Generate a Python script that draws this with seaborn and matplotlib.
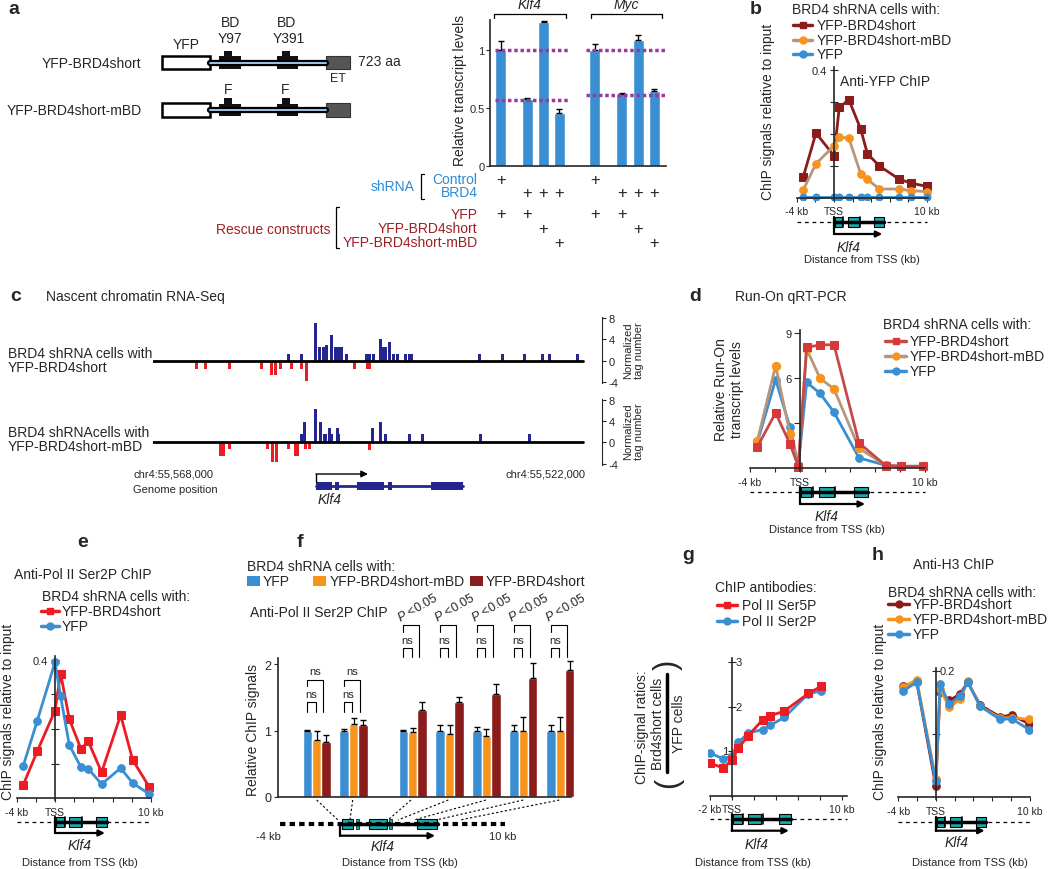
import numpy as np
import pandas as pd
import seaborn as sns
import matplotlib.pyplot as plt
from matplotlib.patches import Rectangle
from matplotlib.transforms import blended_transform_factory

# ---------------- Data ----------------
# a: relative transcript levels (Klf4 x4, Myc x4)
a_pos = [0, 1.6, 2.6, 3.55, 5.7, 7.35, 8.35, 9.3]
a_vals = [1.0, 0.58, 1.24, 0.46, 1.0, 0.62, 1.09, 0.65]
a_err = [0.08, 0.01, 0.01, 0.03, 0.05, 0.005, 0.04, 0.01]
a_klf4_ref = [1.0, 0.57]
a_myc_ref = [1.0, 0.61]
a_rows = ["Control", "BRD4", "YFP", "YFP-BRD4short", "YFP-BRD4short-mBD"]
a_plus = [
    [1, 0, 0, 0, 1, 0, 0, 0],
    [0, 1, 1, 1, 0, 1, 1, 1],
    [1, 1, 0, 0, 1, 1, 0, 0],
    [0, 0, 1, 0, 0, 0, 1, 0],
    [0, 0, 0, 1, 0, 0, 0, 1],
]

# b: anti-YFP ChIP
b_kb = [-3.3, -1.94, 0, 0.57, 1.6, 2.87, 3.6, 4.9, 7.0, 8.25, 10.0]
b_short = [0.067, 0.203, 0.132, 0.283, 0.307, 0.216, 0.138, 0.10, 0.059, 0.047, 0.036]
b_mbd = [0.026, 0.107, 0.163, 0.19, 0.187, 0.076, 0.058, 0.028, 0.028, 0.023, 0.02]
b_yfp = [0.004, 0.004, 0.004, 0.004, 0.004, 0.004, 0.004, 0.004, 0.004, 0.004, 0.004]

# c: nascent RNA-seq tracks (kb from chr4:55,568,000)
c1_up_pos = [14.5, 15.9, 17.4, 17.8, 18.2, 18.6, 19.1, 19.5, 19.8, 20.2, 20.7, 22.8, 23.2,
             23.6, 24.3, 24.6, 24.9, 25.3, 25.7, 26.2, 27.0, 27.4, 27.7, 34.9, 37.4, 39.7,
             41.7, 42.4, 45.4]
c1_up_val = [1.2, 1.2, 7.2, 2.5, 2.5, 3.0, 4.9, 2.5, 2.5, 2.5, 1.2, 1.2, 1.2,
             1.2, 4.1, 2.5, 2.5, 3.6, 1.2, 1.2, 1.2, 1.2, 1.2, 1.2, 1.2, 1.2,
             1.2, 1.2, 1.2]
c1_dn_pos = [4.7, 5.6, 8.2, 11.6, 12.7, 13.1, 13.6, 14.8, 15.9, 16.4, 21.6, 22.9, 23.2]
c1_dn_val = [-1.6, -1.6, -1.6, -1.6, -2.6, -2.6, -1.6, -1.6, -1.6, -3.9, -1.6, -1.6, -1.6]
c2_up_pos = [15.9, 16.2, 17.4, 17.9, 18.4, 18.9, 19.1, 19.7, 19.8, 23.5, 24.3, 24.9,
             27.4, 28.8, 35.0, 40.3]
c2_up_val = [1.6, 3.8, 6.3, 3.8, 1.6, 2.7, 1.6, 2.7, 1.6, 2.7, 3.8, 1.6,
             1.6, 1.6, 1.6, 1.6]
c2_dn_pos = [7.2, 7.5, 8.2, 12.2, 12.8, 13.2, 14.5, 15.2, 15.5, 16.3, 16.7, 23.2]
c2_dn_val = [-2.5, -2.5, -1.3, -1.3, -3.8, -3.8, -1.3, -2.5, -2.5, -1.3, -1.3, -1.5]

# d: run-on qRT-PCR
d_kb = [-3.41, -1.95, -0.8, -0.13, 0.53, 1.6, 2.72, 4.72, 6.85, 8.05, 9.87]
d_short = [1.44, 3.69, 1.62, 0.11, 8.07, 8.22, 8.24, 1.69, 0.18, 0.13, 0.13]
d_mbd = [1.84, 6.84, 2.3, 0.2, 7.95, 6.0, 5.29, 1.33, 0.2, 0.13, 0.13]
d_yfp = [1.73, 5.91, 2.73, 0.18, 5.73, 5.0, 3.73, 0.69, 0.2, 0.13, 0.13]

# e: anti-Pol II Ser2P ChIP
e_kb = [-3.3, -1.84, 0, 0.59, 1.49, 2.71, 3.47, 4.86, 6.84, 8.09, 9.83]
e_short = [0.039, 0.136, 0.253, 0.36, 0.229, 0.142, 0.164, 0.075, 0.240, 0.111, 0.032]
e_yfp = [0.094, 0.224, 0.392, 0.294, 0.154, 0.089, 0.085, 0.041, 0.087, 0.044, 0.012]

# f: relative ChIP signals per amplicon
f_pos = [0, 1, 2.6, 3.6, 4.6, 5.6, 6.6]
f_yfp = [1.0, 1.0, 1.0, 1.0, 1.0, 1.0, 1.0]
f_yfp_err = [0.01, 0.03, 0.005, 0.09, 0.05, 0.09, 0.09]
f_mbd = [0.86, 1.10, 0.98, 0.94, 0.91, 0.99, 1.0]
f_mbd_err = [0.13, 0.09, 0.06, 0.14, 0.11, 0.22, 0.21]
f_short = [0.83, 1.09, 1.31, 1.43, 1.55, 1.79, 1.92]
f_short_err = [0.1, 0.07, 0.12, 0.07, 0.15, 0.23, 0.13]
f_order = ["YFP", "YFP-BRD4short-mBD", "YFP-BRD4short"]

# g: ChIP-signal ratios
g_kb = [-1.97, -0.76, 0, 0.6, 1.5, 2.82, 3.48, 4.76, 6.97, 8.12]
g_ser5 = [0.74, 0.62, 0.80, 1.07, 1.35, 1.71, 1.80, 1.90, 2.30, 2.46]
g_ser2 = [0.96, 0.83, 0.90, 1.20, 1.41, 1.49, 1.58, 1.76, 2.29, 2.36]

# h: anti-H3 ChIP
h_kb = [-3.45, -2.02, 0, 0.46, 1.45, 2.59, 3.4, 4.71, 6.84, 8.09, 9.93]
h_short = [0.176, 0.182, 0.018, 0.166, 0.153, 0.163, 0.182, 0.146, 0.127, 0.13, 0.116]
h_mbd = [0.174, 0.186, 0.029, 0.171, 0.142, 0.155, 0.183, 0.144, 0.125, 0.126, 0.123]
h_yfp = [0.168, 0.182, 0.025, 0.179, 0.147, 0.160, 0.182, 0.144, 0.123, 0.124, 0.107]

# Klf4 gene model (kb from TSS)
klf4_exons = [(0.1, 0.9), (1.5, 2.7), (4.3, 5.4)]
klf4_small = [1.0, 2.8]
klf4_arrow_end = 5.2

# ---------------- Style ----------------
BLUE = "#3a8fd2"
ORANGE = "#f7941d"
DARKRED = "#8b1c1c"
RED = "#ec1c24"
BRICK = "#c44a4a"
TAN = "#b5967f"
TEAL = "#19a9ab"
NAVY = "#25258f"
TXTBLUE = "#2b8ad6"
TXTRED = "#9e1f23"
PURPLE = "#9a3a9e"

sns.set_style("ticks")
plt.rcParams["font.family"] = ["Liberation Sans", "DejaVu Sans"]
plt.rcParams["mathtext.fontset"] = "custom"
plt.rcParams["mathtext.it"] = "Liberation Sans:italic"
plt.rcParams["mathtext.rm"] = "Liberation Sans"
plt.rcParams["axes.linewidth"] = 1.2

W, H = 1050, 870
fig = plt.figure(figsize=(10.5, 8.7), dpi=100)
ov = fig.add_axes([0, 0, 1, 1], zorder=5)
ov.set_xlim(0, W)
ov.set_ylim(H, 0)
ov.axis("off")


def px_axes(x0, y0, x1, y1):
    ax = fig.add_axes([x0 / W, 1 - y1 / H, (x1 - x0) / W, (y1 - y0) / H])
    ax.patch.set_alpha(0)
    return ax


def txt(x, y, s, size=10, **kw):
    kw.setdefault("va", "center")
    ov.text(x, y, s, fontsize=size, **kw)


def trace(ax, x, y, line, face, marker, ms=5):
    sns.lineplot(x=x, y=y, ax=ax, color=line, marker=marker, markersize=ms,
                 markerfacecolor=face, markeredgecolor=face, lw=2, sort=False)


def tss_axes(ax, xlim, ylim, xb, xticks, xlabels, yticks, ylabels, ydir="inout"):
    ax.set_xlim(*xlim)
    ax.set_ylim(*ylim)
    sns.despine(ax=ax)
    ax.spines["left"].set_position(("data", 0))
    ax.spines["bottom"].set_position(("data", 0))
    ax.spines["bottom"].set_bounds(*xb)
    ax.set_xticks(xticks)
    ax.set_xticklabels(xlabels, fontsize=7.5)
    ax.set_yticks(yticks)
    ax.set_yticklabels(ylabels, fontsize=8)
    ax.tick_params(axis="y", direction=ydir, length=6, pad=2)
    ax.tick_params(axis="x", direction="out", length=3, pad=3)
    ax.set_xlabel("")
    ax.set_ylabel("")


def klf4_gene(ax, x_lo, x_hi, y_line, y_arrow, name_x, y_name, dist_x, y_dist):
    tr = blended_transform_factory(ax.transData, ov.transData)
    kw = dict(transform=tr, clip_on=False)
    ax.plot([x_lo, x_hi], [y_line, y_line], color="k", lw=0.9, ls=(0, (3, 3)), **kw)
    ax.plot([0, klf4_exons[-1][1]], [y_line, y_line], color="k", lw=2.5, **kw)
    for s, e in klf4_exons:
        ax.add_patch(Rectangle((s, y_line - 5), e - s, 10, fc=TEAL, ec="k", lw=0.8, **kw))
    for m in klf4_small:
        ax.plot([m, m], [y_line - 5, y_line + 5], color="k", lw=1.2, **kw)
    ax.plot([0, 0], [y_line - 5, y_arrow], color="k", lw=1.6, **kw)
    ax.annotate("", xy=(klf4_arrow_end, y_arrow), xytext=(0, y_arrow), xycoords=tr,
                textcoords=tr, annotation_clip=False,
                arrowprops=dict(arrowstyle="-|>", color="k", lw=1.6, mutation_scale=9,
                                shrinkA=0, shrinkB=0))
    ax.text(name_x, y_name, "Klf4", transform=tr, style="italic", ha="center",
            va="center", fontsize=10)
    txt(dist_x, y_dist, "Distance from TSS (kb)", size=8, ha="center")


def legend_line(x0, x1, y, line, face, marker, label, tx):
    ov.plot([x0, x1], [y, y], color=line, lw=2.5)
    ov.plot([(x0 + x1) / 2], [y], marker=marker, color=face, ms=5)
    txt(tx, y, label, size=10)


# ---------------- Panel letters ----------------
for s, x, y in [("a", 8, 9), ("b", 750, 10), ("c", 10, 297), ("d", 689, 297),
                ("e", 77, 543), ("f", 297, 543), ("g", 682, 556), ("h", 872, 556)]:
    txt(x, y, s, size=14, weight="bold")

# ---------------- a: constructs ----------------
for yc, lab in [(63.5, "YFP-BRD4short"), (111, "YFP-BRD4short-mBD")]:
    txt(141.7, yc, lab, ha="right")
    ov.plot([210, 326], [yc, yc], color="k", lw=4.5)
    ov.plot([210, 326], [yc, yc], color="#9fc5ea", lw=1.4)
    ov.add_patch(Rectangle((161.7, yc - 6.7), 48.3, 13.4, fc="white", ec="k", lw=1.8))
    for bx in [219.3, 276.7]:
        ov.add_patch(Rectangle((bx, yc - 6.3), 21.4, 12.6, fc="#111111", ec="none"))
        ov.add_patch(Rectangle((bx + 5, yc - 12), 8, 6, fc="#111111", ec="none"))
    ov.add_patch(Rectangle((326, yc - 6.7), 24, 13.4, fc="#555555", ec="#333333", lw=0.8))
txt(185.7, 45, "YFP", ha="center")
txt(230, 22.7, "BD", ha="center")
txt(230, 39, "Y97", ha="center")
txt(287, 22.7, "BD", ha="center")
txt(289, 39, "Y391", ha="center")
txt(358, 62, "723 aa")
txt(338, 79, "ET", size=9, ha="center")
txt(228, 90, "F", ha="center")
txt(285, 90, "F", ha="center")

# ---------------- a: bar chart ----------------
ax_a = px_axes(490, 20.8, 666, 167)
df_a = pd.DataFrame({"pos": a_pos, "val": a_vals})
sns.barplot(data=df_a, x="pos", y="val", native_scale=True, width=0.705, color=BLUE,
            saturation=1, errorbar=None, ax=ax_a)
ax_a.errorbar(a_pos, a_vals, yerr=[np.zeros(len(a_err)), a_err], fmt="none",
              ecolor="k", elinewidth=1, capsize=2)
for v in a_klf4_ref:
    ax_a.plot([-0.35, 4.1], [v, v], color=PURPLE, lw=2.5, ls=(0, (1, 0.8)), zorder=5)
for v in a_myc_ref:
    ax_a.plot([5.2, 10.0], [v, v], color=PURPLE, lw=2.5, ls=(0, (1, 0.8)), zorder=5,
              clip_on=False)
ax_a.set_xlim(-0.65, 10.02)
ax_a.set_ylim(0, 1.26)
ax_a.set_xticks([])
ax_a.set_yticks([0, 0.5, 1])
ax_a.set_yticklabels(["0", "0.5", "1"], fontsize=8)
ax_a.tick_params(axis="y", length=3, pad=1)
ax_a.set_xlabel("")
ax_a.set_ylabel("")
sns.despine(ax=ax_a)
txt(460, 90, "Relative transcript levels", rotation=90, ha="center")

tr_a = blended_transform_factory(ax_a.transData, ov.transData)
for lo, hi, name in [(-0.39, 3.94, "Klf4"), (5.47, 9.76, "Myc")]:
    ax_a.plot([lo, lo, hi, hi], [19, 15, 15, 19], color="k", lw=0.9, transform=tr_a,
              clip_on=False)
    ax_a.text((lo + hi) / 2, 5, name, style="italic", ha="center", va="center",
              fontsize=10, transform=tr_a)
row_y = [180, 193.3, 215, 229.3, 243.3]
for r, (lab, flags) in enumerate(zip(a_rows, a_plus)):
    txt(477.7, row_y[r], lab, ha="right", color=TXTBLUE if r < 2 else TXTRED)
    for x, f in zip(a_pos, flags):
        if f:
            ax_a.text(x, row_y[r], "+", ha="center", va="center", fontsize=12,
                      transform=tr_a)
txt(393, 187, "shRNA", ha="center", color=TXTBLUE)
ov.plot([424, 421, 421, 424], [175, 175, 200, 200], color="k", lw=0.9)
txt(331, 230, "Rescue constructs", ha="right", color=TXTRED)
ov.plot([339, 336, 336, 339], [208, 208, 249, 249], color="k", lw=0.9)

# ---------------- b ----------------
ax_b = px_axes(794.05, 67.8, 931.5, 200.6)
trace(ax_b, b_kb, b_short, DARKRED, DARKRED, "s", 5.5)
trace(ax_b, b_kb, b_mbd, TAN, ORANGE, "o", 5.5)
trace(ax_b, b_kb, b_yfp, BLUE, BLUE, "o", 5)
tss_axes(ax_b, (-4.3, 10.5), (-0.005, 0.41), (-4, 10.1),
         [-4, -2, 0, 2, 4, 6, 8, 10], ["-4 kb", "", "TSS", "", "", "", "", "10 kb"],
         [0.1, 0.2, 0.3, 0.4], ["", "", "", "0.4"])
klf4_gene(ax_b, -4, 10, 223.3, 235, 1.54, 248.3, 861.7, 260)
txt(791.7, 10, "BRD4 shRNA cells with:")
legend_line(793, 812, 26, DARKRED, DARKRED, "s", "YFP-BRD4short", 816.7)
legend_line(793, 812, 40.7, TAN, ORANGE, "o", "YFP-BRD4short-mBD", 816.7)
legend_line(793, 812, 55, BLUE, BLUE, "o", "YFP", 816.7)
txt(840, 81.7, "Anti-YFP ChIP")
txt(768.3, 112, "ChIP signals relative to input", rotation=90, ha="center")

# ---------------- c ----------------
tracks = [
    (318.2, 384.0, c1_up_pos, c1_up_val, c1_dn_pos, c1_dn_val, 351),
    (399.8, 465.6, c2_up_pos, c2_up_val, c2_dn_pos, c2_dn_val, 432),
]
for top, bot, up_p, up_v, dn_p, dn_v, mid in tracks:
    ax_c = px_axes(153, top, 601.7, bot)
    ax_c.bar(up_p, up_v, width=0.33, color=NAVY, linewidth=0)
    ax_c.bar(dn_p, dn_v, width=0.33, color=RED, linewidth=0)
    ax_c.plot([0, 46], [0, 0], color="k", lw=2)
    ax_c.set_xlim(0, 48)
    ax_c.set_ylim(-4.2, 8.2)
    for sp in ["left", "top", "bottom"]:
        ax_c.spines[sp].set_visible(False)
    ax_c.spines["right"].set_linewidth(0.8)
    ax_c.yaxis.tick_right()
    ax_c.set_xticks([])
    ax_c.set_yticks([-4, 0, 4, 8])
    ax_c.set_yticklabels(["-4", "0", "4", "8"], fontsize=8)
    ax_c.tick_params(axis="y", length=3, pad=2, width=0.8)
    txt(634, mid, "Normalized\ntag number", size=8, rotation=90, ha="center",
        linespacing=1.1)
txt(46, 297, "Nascent chromatin RNA-Seq")
txt(8, 354, "BRD4 shRNA cells with", size=10)
txt(8, 368, "YFP-BRD4short", size=10)
txt(8, 433.3, "BRD4 shRNAcells with", size=10)
txt(8, 447, "YFP-BRD4short-mBD", size=10)
txt(133, 475, "chr4:55,568,000", size=8)
txt(133, 490, "Genome position", size=8)
txt(585, 475, "chr4:55,522,000", size=8, ha="right")
# Klf4 gene model (genome browser)
ov.plot([316, 462.7], [486.7, 486.7], color=NAVY, lw=2)
for s, e in [(316, 332), (335, 339), (357, 384), (387.6, 391.6), (431, 463)]:
    ov.add_patch(Rectangle((s, 483), e - s, 7.5, fc=NAVY, ec="none"))
ov.plot([316, 316], [483, 475], color="k", lw=1)
ov.annotate("", xy=(368, 475), xytext=(316, 475),
            arrowprops=dict(arrowstyle="-|>", color="k", lw=1, mutation_scale=10,
                            shrinkA=0, shrinkB=0))
txt(330, 500, "Klf4", style="italic", ha="center")

# ---------------- d ----------------
ax_d = px_axes(747.5, 331.3, 930, 471.5)
trace(ax_d, d_kb, d_yfp, BLUE, BLUE, "o", 5.5)
trace(ax_d, d_kb, d_mbd, TAN, ORANGE, "o", 6)
trace(ax_d, d_kb, d_short, BRICK, "#d8383a", "s", 6)
tss_axes(ax_d, (-4.2, 10.4), (-0.15, 9.2), (-4, 10),
         [-4, -2, 0, 2, 4, 6, 8, 10], ["-4 kb", "", "TSS", "", "", "", "", "10 kb"],
         [3, 6, 9], ["", "6", "9"], ydir="out")
ax_d.tick_params(axis="y", length=4)
klf4_gene(ax_d, -4, 10, 493.3, 505, 2.1, 516.7, 826.7, 530)
txt(735, 297, "Run-On qRT-PCR")
txt(883, 325, "BRD4 shRNA cells with:")
legend_line(885, 906, 342, BRICK, "#d8383a", "s", "YFP-BRD4short", 910)
legend_line(885, 906, 356.7, TAN, ORANGE, "o", "YFP-BRD4short-mBD", 910)
legend_line(885, 906, 371.7, BLUE, BLUE, "o", "YFP", 910)
txt(729, 390, "Relative Run-On\ntranscript levels", rotation=90, ha="center",
    linespacing=1.1)

# ---------------- e ----------------
ax_e = px_axes(15.6, 657.2, 152.9, 801.0)
trace(ax_e, e_kb, e_short, RED, RED, "s", 5.5)
trace(ax_e, e_kb, e_yfp, BLUE, BLUE, "o", 5.5)
tss_axes(ax_e, (-4.1, 10.2), (-0.005, 0.41), (-4, 10),
         [-4, -2, 0, 2, 4, 6, 8, 10], ["-4 kb", "", "TSS", "", "", "", "", "10 kb"],
         [0.1, 0.2, 0.3, 0.4], ["", "", "", "0.4"])
klf4_gene(ax_e, -4, 10, 823.3, 834, 2.6, 846, 80, 863)
txt(14, 575, "Anti-Pol II Ser2P ChIP")
txt(41.5, 597, "BRD4 shRNA cells with:")
legend_line(41, 59, 612, RED, RED, "s", "YFP-BRD4short", 62)
legend_line(41, 59, 627, BLUE, BLUE, "o", "YFP", 62)
txt(8, 712, "ChIP signals relative to input", rotation=90, ha="center")

# ---------------- f ----------------
ax_f = px_axes(278.3, 595.8, 575, 797.7)
df_f = pd.DataFrame({
    "pos": f_pos * 3,
    "val": f_yfp + f_mbd + f_short,
    "cond": [f_order[0]] * 7 + [f_order[1]] * 7 + [f_order[2]] * 7,
})
sns.barplot(data=df_f, x="pos", y="val", hue="cond", hue_order=f_order,
            palette=[BLUE, ORANGE, DARKRED], native_scale=True, width=0.765,
            saturation=1, errorbar=None, legend=False, ax=ax_f)
for off, vals, errs in [(-0.255, f_yfp, f_yfp_err), (0, f_mbd, f_mbd_err),
                        (0.255, f_short, f_short_err)]:
    ax_f.errorbar(np.array(f_pos) + off, vals, yerr=[np.zeros(len(errs)), errs],
                  fmt="none", ecolor="k", elinewidth=0.9, capsize=2)
for i, x in enumerate(f_pos):
    xb, xo, xr = x - 0.255, x - 0.03, x + 0.17
    if i < 2:
        lo_top, lo_leg, up_top, up_leg = 1.43, 1.28, 1.77, 1.67
    else:
        lo_top, lo_leg, up_top, up_leg = 2.24, 2.11, 2.59, 2.49
    ax_f.plot([xb, xb, xo, xo], [lo_leg, lo_top, lo_top, lo_leg], color="k", lw=0.8,
              clip_on=False)
    ax_f.plot([xb, xb, xr, xr], [up_leg, up_top, up_top, lo_leg], color="k", lw=0.8,
              clip_on=False)
    ax_f.text((xb + xo) / 2, lo_top + 0.12, "ns", ha="center", va="center", fontsize=8)
    if i < 2:
        ax_f.text((xb + xr) / 2, up_top + 0.13, "ns", ha="center", va="center",
                  fontsize=8)
    else:
        ax_f.text(x + 0.15, 2.87, "$P$ <0.05", rotation=30, ha="center", va="center",
                  fontsize=9, clip_on=False)
ax_f.set_xlim(-1.04, 7.0)
ax_f.set_ylim(0, 3.05)
ax_f.set_xticks([])
ax_f.set_yticks([0, 1, 2])
ax_f.set_yticklabels(["0", "1", "2"], fontsize=9)
ax_f.tick_params(axis="y", length=3, pad=2)
ax_f.set_xlabel("")
ax_f.set_ylabel("")
sns.despine(ax=ax_f)
ax_f.spines["left"].set_bounds(0, 2.1)
ax_f.spines["bottom"].set_bounds(-1.04, 6.9)
txt(253, 730, "Relative ChIP signals", rotation=90, ha="center")
txt(246.7, 567, "BRD4 shRNA cells with:")
for px, col, lab in [(246.7, BLUE, f_order[0]), (313.3, ORANGE, f_order[1]),
                     (470, DARKRED, f_order[2])]:
    ov.add_patch(Rectangle((px, 576.5), 13, 10, fc=col, ec="none"))
    txt(px + 16, 581.7, lab)
txt(250, 613, "Anti-Pol II Ser2P ChIP")
# amplicon map
ov.plot([280, 505], [825, 825], color="k", lw=3, ls=(0, (1.3, 1)))
ov.plot([340, 438], [825, 825], color="k", lw=2.5)
for s, e in [(341.7, 353.3), (369.3, 386.7), (417.3, 437.3)]:
    ov.add_patch(Rectangle((s, 820), e - s, 10, fc=TEAL, ec="k", lw=0.8))
for s in [356, 389]:
    ov.add_patch(Rectangle((s, 820), 2.5, 10, fc=TEAL, ec="k", lw=0.5))
ov.plot([340, 340], [825, 836.7], color="k", lw=1.6)
ov.annotate("", xy=(435, 836.7), xytext=(340, 836.7),
            arrowprops=dict(arrowstyle="-|>", color="k", lw=1.6, mutation_scale=9,
                            shrinkA=0, shrinkB=0))
for gx, ax_ in zip([316.7, 352.7, 411, 448.3, 486, 523.3, 559.3],
                   [338, 350, 388, 398, 414, 436, 460]):
    ov.plot([gx, ax_], [801, 821], color="k", lw=0.8, ls=(0, (2, 2)))
txt(268, 837, "-4 kb", size=8, ha="center")
txt(503, 837, "10 kb", size=8, ha="center")
txt(383, 847, "Klf4", style="italic", ha="center")
txt(400, 863, "Distance from TSS (kb)", size=8, ha="center")

# ---------------- g ----------------
ax_g = px_axes(707.5, 658.85, 848.3, 797.7)
trace(ax_g, g_kb, g_ser2, BLUE, BLUE, "o", 5.5)
trace(ax_g, g_kb, g_ser5, RED, RED, "s", 5.5)
tss_axes(ax_g, (-2.2, 10.6), (-0.02, 3.1), (-2, 10.5),
         [-2, 0, 2, 4, 6, 8, 10], ["-2 kb", "TSS", "", "", "", "", "10 kb"],
         [1, 2, 3], ["", "", ""])
for v, dx, ha in [(1, -0.35, "right"), (2, 0.35, "left"), (3, 0.35, "left")]:
    ax_g.text(dx, v, str(v), ha=ha, va="center", fontsize=8)
klf4_gene(ax_g, -2, 10.5, 820, 831.7, 2.3, 845, 753, 863.3)
txt(715, 588, "ChIP antibodies:")
legend_line(717, 737, 606, RED, RED, "s", "Pol II Ser5P", 741.7)
legend_line(717, 737, 621.7, BLUE, BLUE, "o", "Pol II Ser2P", 741.7)
txt(641.7, 726.7, "ChIP-signal ratios:", rotation=90, ha="center")
txt(658, 724, "Brd4short cells", rotation=90, ha="center")
txt(679, 724, "YFP cells", rotation=90, ha="center")
ov.plot([667, 667], [675, 773], color="k", lw=2.5)
txt(668, 665, ")", size=22, rotation=90, ha="center")
txt(668, 783, "(", size=22, rotation=90, ha="center")

# ---------------- h ----------------
ax_h = px_axes(897.2, 668.5, 1031.6, 800.2)
trace(ax_h, h_kb, h_short, DARKRED, DARKRED, "o", 5.5)
trace(ax_h, h_kb, h_mbd, ORANGE, ORANGE, "o", 5.5)
trace(ax_h, h_kb, h_yfp, BLUE, BLUE, "o", 5.5)
tss_axes(ax_h, (-4.1, 10.2), (-0.003, 0.205), (-4, 10),
         [-4, -2, 0, 2, 4, 6, 8, 10], ["-4 kb", "", "TSS", "", "", "", "", "10 kb"],
         [0.1, 0.2], ["", ""])
ax_h.text(0.4, 0.2, "0.2", ha="left", va="center", fontsize=8)
klf4_gene(ax_h, -4, 10, 822.7, 831.7, 2.2, 843.3, 970, 863.3)
txt(913, 565, "Anti-H3 ChIP")
txt(888, 592.7, "BRD4 shRNA cells with:")
legend_line(888, 909, 605, DARKRED, DARKRED, "o", "YFP-BRD4short", 912.7)
legend_line(888, 909, 620, ORANGE, ORANGE, "o", "YFP-BRD4short-mBD", 912.7)
legend_line(888, 909, 635, BLUE, BLUE, "o", "YFP", 912.7)
txt(880, 712, "ChIP signals relative to input", rotation=90, ha="center")

fig.savefig("out.png", dpi=100)
